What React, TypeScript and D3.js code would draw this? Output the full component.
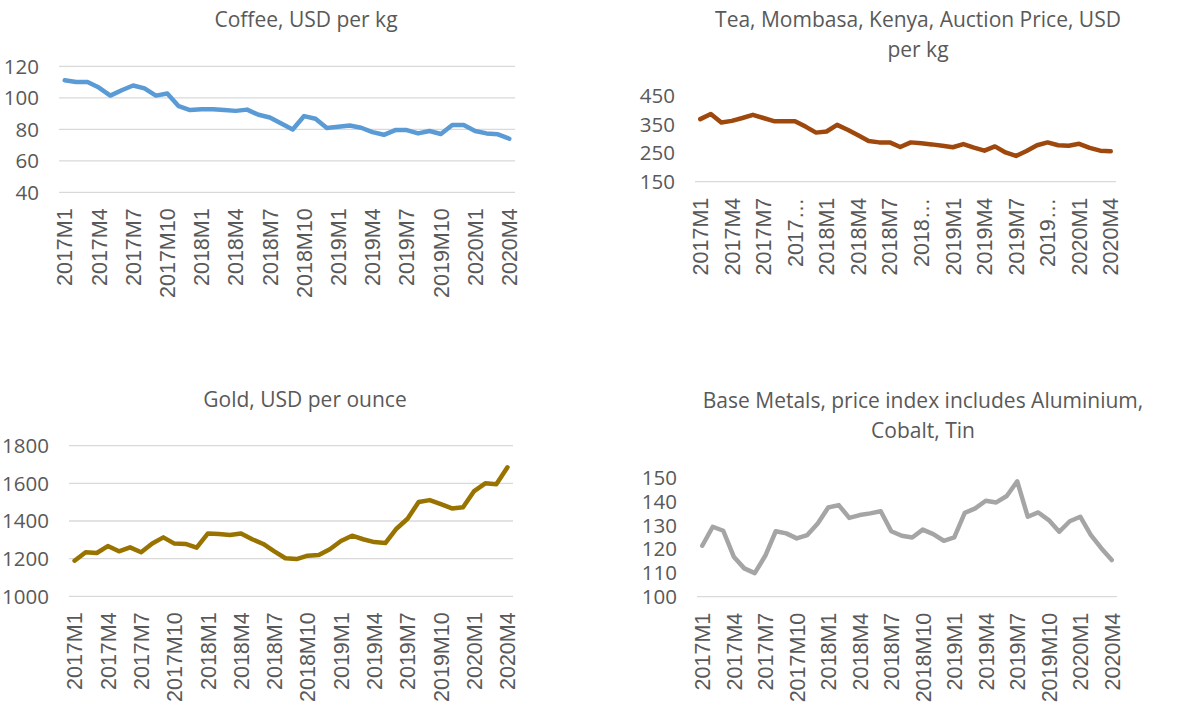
import React from "react";
import * as d3 from "d3";

const months = [
  "2017M1", "2017M2", "2017M3", "2017M4", "2017M5", "2017M6", "2017M7", "2017M8", "2017M9", "2017M10", "2017M11", "2017M12",
  "2018M1", "2018M2", "2018M3", "2018M4", "2018M5", "2018M6", "2018M7", "2018M8", "2018M9", "2018M10", "2018M11", "2018M12",
  "2019M1", "2019M2", "2019M3", "2019M4", "2019M5", "2019M6", "2019M7", "2019M8", "2019M9", "2019M10", "2019M11", "2019M12",
  "2020M1", "2020M2", "2020M3", "2020M4",
];

// shown every 3rd month
const xTickLabels = [
  "2017M1", "2017M4", "2017M7", "2017M10", "2018M1", "2018M4", "2018M7",
  "2018M10", "2019M1", "2019M4", "2019M7", "2019M10", "2020M1", "2020M4",
];
// tea chart is narrower, excel cut the long ones
const teaTickLabels = [
  "2017M1", "2017M4", "2017M7", "2017…", "2018M1", "2018M4", "2018M7",
  "2018…", "2019M1", "2019M4", "2019M7", "2019…", "2020M1", "2020M4",
];

const coffee = [
  111.1, 110, 110, 106.5, 101.4, 104.8, 107.8, 106, 101.4, 102.7, 94.7, 92.2,
  92.8, 92.8, 92.2, 91.7, 92.5, 89.2, 87.5, 83.7, 79.9, 88.4, 86.7, 80.8,
  81.6, 82.4, 81, 78.2, 76.5, 79.5, 79.5, 77.4, 78.9, 77, 82.7, 82.7,
  78.9, 77.4, 76.8, 74,
];

const tea = [
  368, 386, 356, 362, 372, 383, 372, 361, 361, 361, 342, 321,
  325, 348, 331, 312, 292, 287, 287, 271, 287, 284, 280, 275,
  270, 281, 269, 258, 273, 252, 240, 257, 277, 287, 277, 275,
  282, 268, 258, 256,
];

const gold = [
  1189, 1234, 1230, 1267, 1239, 1260, 1234, 1281, 1313, 1280, 1278, 1258,
  1333, 1331, 1326, 1334, 1303, 1278, 1239, 1202, 1198, 1216, 1219, 1250,
  1294, 1322, 1303, 1288, 1283, 1359, 1412, 1501, 1511, 1490, 1467, 1473,
  1559, 1600, 1595, 1685,
];

const baseMetals = [
  121.4, 129.4, 127.7, 116.8, 111.9, 109.9, 117.2, 127.5, 126.6, 124.5, 125.9, 130.8,
  137.5, 138.5, 133.1, 134.3, 135, 135.9, 127.5, 125.6, 124.9, 128.2, 126.3, 123.5,
  124.9, 135.2, 137.1, 140.3, 139.6, 142.3, 148.5, 133.6, 135.4, 132.2, 127.3, 131.7,
  133.6, 126, 120.4, 115.4,
];

const coffeeTicks = [40, 60, 80, 100, 120];
const teaTicks = [150, 250, 350, 450];
const goldTicks = [1000, 1200, 1400, 1600, 1800];
const baseTicks = [100, 110, 120, 130, 140, 150];

const textColor = "#595959";
const gridColor = "#D9D9D9";
const titleFont = "'Open Sans', sans-serif";
const labelFont = "'Liberation Sans', Arial, sans-serif";

const panels = [
  {
    title: ["Coffee, USD per kg"],
    titleX: 306, titleY: 27,
    values: coffee, ticks: coffeeTicks, color: "#5B9BD5",
    x0: 59, x1: 515, yTop: 66.3, yBottom: 192.3, grid: true,
    labels: xTickLabels,
  },
  {
    title: ["Tea, Mombasa, Kenya, Auction Price, USD", "per kg"],
    titleX: 918, titleY: 27,
    values: tea, ticks: teaTicks, color: "#9E480E",
    x0: 695, x1: 1116, yTop: 95.6, yBottom: 181.7, grid: false,
    labels: teaTickLabels,
  },
  {
    title: ["Gold, USD per ounce"],
    titleX: 305, titleY: 407,
    values: gold, ticks: goldTicks, color: "#997300",
    x0: 69, x1: 513, yTop: 445.7, yBottom: 596.3, grid: true,
    labels: xTickLabels,
  },
  {
    title: ["Base Metals, price index includes Aluminium,", "Cobalt, Tin"],
    titleX: 923, titleY: 408,
    values: baseMetals, ticks: baseTicks, color: "#A5A5A5",
    x0: 697, x1: 1117, yTop: 477.7, yBottom: 596.7, grid: false,
    labels: xTickLabels,
  },
];

const Panel = ({ p }) => {
  const x = d3.scalePoint().domain(months).range([p.x0, p.x1]).padding(0.5);
  const y = d3
    .scaleLinear()
    .domain([p.ticks[0], p.ticks[p.ticks.length - 1]])
    .range([p.yBottom, p.yTop]);
  const line = d3
    .line()
    .x((d, i) => x(months[i]))
    .y((d) => y(d));
  const shownMonths = months.filter((m, i) => i % 3 === 0);

  return (
    <g>
      {p.title.map((t, i) => (
        <text
          key={t}
          x={p.titleX}
          y={p.titleY + i * 30}
          textAnchor="middle"
          fontFamily={titleFont}
          fontSize={21}
          fill={textColor}
        >
          {t}
        </text>
      ))}
      {p.ticks.map((t, i) =>
        p.grid || i === 0 ? (
          <line
            key={"g" + t}
            x1={p.x0}
            x2={p.x1}
            y1={y(t)}
            y2={y(t)}
            stroke={gridColor}
            strokeWidth={1.3}
          />
        ) : null
      )}
      {p.ticks.map((t) => (
        <text
          key={"t" + t}
          x={p.x0 - 20}
          y={y(t)}
          dy="0.36em"
          textAnchor="end"
          fontFamily={titleFont}
          fontSize={20.5}
          fill={textColor}
        >
          {t}
        </text>
      ))}
      {shownMonths.map((m, i) => (
        <text
          key={"x" + m}
          transform={`translate(${x(m)},${p.yBottom + 16}) rotate(-90)`}
          dy="0.36em"
          textAnchor="end"
          fontFamily={labelFont}
          fontSize={21.5}
          fill={textColor}
        >
          {p.labels[i]}
        </text>
      ))}
      <path
        d={line(p.values)}
        fill="none"
        stroke={p.color}
        strokeWidth={4.5}
        strokeLinejoin="round"
        strokeLinecap="round"
      />
    </g>
  );
};

export default function App() {
  const width = 1183;
  const height = 705;
  return (
    <div style={{ position: "absolute", left: 0, top: 0 }}>
      <svg width={width} height={height} style={{ display: "block", background: "#fff" }}>
        {panels.map((p) => (
          <Panel key={p.title[0]} p={p} />
        ))}
      </svg>
    </div>
  );
}
